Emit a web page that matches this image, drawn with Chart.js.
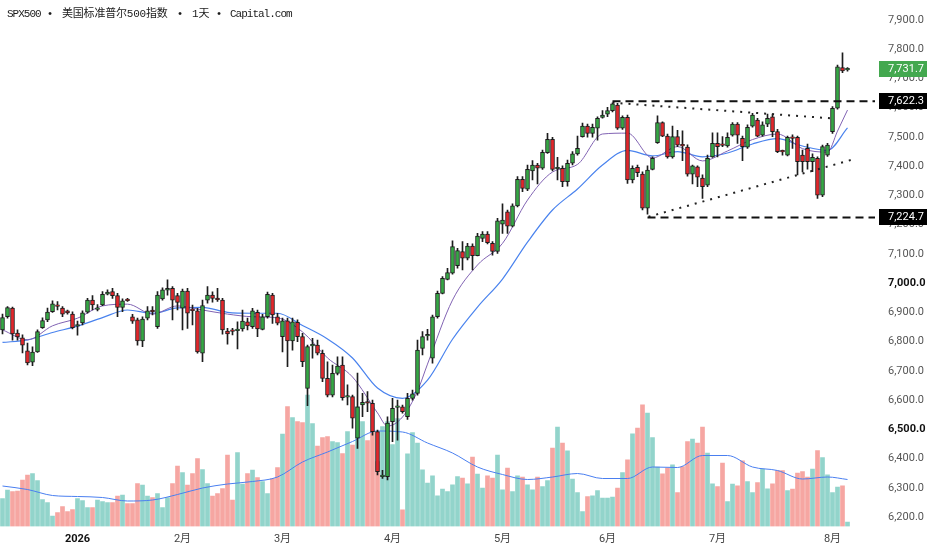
<!DOCTYPE html>
<html><head><meta charset="utf-8">
<script src="https://cdn.jsdelivr.net/npm/chart.js@4.4.1/dist/chart.umd.min.js"></script>
<style>
html,body{margin:0;padding:0;background:#fff;}
#wrap{position:relative;width:932px;height:550px;overflow:hidden;}
#title span{position:absolute;top:8px;white-space:nowrap;line-height:12px;font-size:11px;color:#1a1a1a;font-family:'Liberation Mono','Noto Sans CJK SC',monospace;}
#title .lat{letter-spacing:-1px;}
#title .dot{text-align:center;width:8px;}
</style></head><body>
<div id="wrap">
<canvas id="c"></canvas>
<div id="title">
<span class="lat" style="left:7px">SPX500</span>
<span class="dot" style="left:46px">•</span>
<span style="left:62px;letter-spacing:-0.2px">美国标准普尔500指数</span>
<span class="dot" style="left:176px">•</span>
<span style="left:192px">1天</span>
<span class="dot" style="left:215px">•</span>
<span class="lat" style="left:230px">Capital.com</span>
</div>
</div>
<script>
// ---------- DATA ----------
const open = [
6840,6885,6915,6829,6813,6768,6730,6765,6848,6874,
6902,6921,6915,6905,6894,6853,6864,6901,6942,6910,
6925,6962,6971,6957,6917,6943,6885,6874,6802,6880,
6904,6851,6946,6976,6982,6957,6914,6973,6909,6905,
6760,6942,6959,6945,6942,6836,6837,6837,6843,6868,
6851,6900,6842,6885,6959,6885,6817,6871,6802,6866,
6817,6640,6785,6788,6760,6674,6617,6691,6720,6610,
6612,6470,6583,6591,6589,6492,6338,6338,6526,6575,
6577,6543,6606,6623,6777,6819,6743,6885,6965,7013,
7034,7060,7108,7085,7127,7094,7153,7168,7136,7108,
7202,7244,7195,7264,7355,7321,7384,7404,7393,7446,
7492,7391,7393,7347,7410,7442,7501,7537,7512,7530,
7567,7578,7590,7609,7530,7567,7353,7396,7373,7256,
7389,7480,7549,7503,7432,7501,7470,7465,7373,7398,
7359,7335,7432,7478,7472,7469,7506,7544,7495,7465,
7537,7558,7506,7544,7569,7518,7450,7438,7496,7499,
7438,7461,7415,7427,7301,7438,7518,7598,7737,7729];
const high = [
6894,6920,6918,6840,6823,6795,6782,6840,6881,6915,
6939,6937,6920,6908,6902,6870,6905,6948,6957,6927,
6971,6977,6982,6965,6946,6948,6893,6880,6885,6920,
6920,6971,6984,7011,6988,6965,6980,6982,6925,6914,
6942,6988,6970,6982,6948,6845,6845,6868,6908,6880,
6914,6908,6893,6969,6965,6897,6880,6880,6880,6874,
6828,6788,6811,6805,6771,6731,6720,6748,6748,6652,
6617,6692,6623,6629,6600,6497,6360,6543,6606,6600,
6583,6623,6634,6805,6834,6842,6891,6973,7022,7051,
7145,7119,7142,7136,7134,7170,7176,7176,7142,7222,
7271,7250,7271,7364,7364,7404,7419,7410,7455,7512,
7499,7430,7401,7421,7450,7503,7547,7544,7544,7569,
7590,7601,7617,7615,7572,7575,7401,7404,7381,7401,
7432,7572,7552,7510,7537,7523,7521,7473,7404,7401,
7370,7438,7514,7514,7501,7514,7549,7549,7503,7541,
7581,7564,7552,7578,7578,7526,7455,7503,7507,7503,
7455,7476,7442,7432,7472,7478,7604,7746,7788,7737];
const low = [
6826,6880,6805,6805,6761,6720,6718,6763,6845,6868,
6900,6908,6885,6894,6843,6822,6857,6897,6908,6905,
6923,6960,6948,6885,6902,6937,6862,6788,6783,6874,
6891,6845,6942,6959,6874,6908,6840,6845,6857,6760,
6731,6931,6935,6937,6825,6791,6823,6775,6836,6840,
6845,6817,6840,6880,6862,6857,6765,6714,6771,6800,
6714,6581,6743,6754,6663,6611,6611,6686,6600,6583,
6504,6435,6543,6560,6480,6344,6332,6327,6458,6463,
6555,6534,6600,6617,6754,6805,6726,6880,6963,7011,
7031,7051,7045,7079,7045,7093,7142,7134,7096,7102,
7170,7170,7192,7261,7313,7316,7353,7339,7389,7444,
7384,7353,7330,7332,7404,7438,7499,7499,7499,7489,
7564,7569,7586,7526,7526,7341,7343,7364,7250,7236,
7387,7478,7501,7427,7427,7467,7419,7366,7339,7330,
7290,7330,7430,7432,7467,7465,7503,7478,7419,7461,
7533,7501,7503,7535,7501,7446,7438,7435,7461,7370,
7380,7390,7381,7290,7296,7433,7512,7595,7720,7725];
const close = [
6882,6916,6826,6816,6788,6727,6764,6834,6872,6901,
6929,6920,6894,6898,6848,6856,6898,6942,6925,6913,
6962,6969,6957,6917,6939,6940,6870,6802,6877,6905,
6902,6959,6977,6982,6942,6934,6973,6897,6906,6765,
6923,6959,6948,6943,6840,6826,6835,6843,6870,6854,
6905,6843,6885,6962,6891,6863,6871,6802,6868,6817,
6731,6783,6788,6760,6674,6617,6691,6716,6608,6612,
6538,6577,6592,6589,6492,6355,6341,6521,6572,6577,
6560,6606,6621,6771,6817,6821,6885,6965,7016,7036,
7125,7111,7085,7127,7094,7161,7168,7138,7108,7213,
7216,7195,7264,7355,7324,7389,7404,7393,7447,7492,
7389,7393,7347,7410,7442,7461,7537,7512,7533,7564,
7575,7590,7613,7530,7567,7353,7393,7378,7256,7387,
7427,7549,7503,7432,7501,7472,7469,7373,7401,7362,
7330,7427,7478,7467,7471,7499,7544,7506,7467,7533,
7575,7503,7541,7564,7518,7450,7449,7499,7495,7415,
7415,7415,7430,7301,7467,7472,7598,7740,7726,7731.7];
// volume, relative units
const volume = [
28,36.5,35,35.5,46.5,51.5,53,46,27,24,
10.5,14,20,15,17,28,26,19,19,26.5,
25,24,24,30.5,31.5,23,23,43,41.5,30.5,
29,33,19,29,43,60.5,54,41.5,53,68,
57,43,30.5,33,38,71.5,26.5,74,42.5,53,
56.5,49,45,33,48,59,92.5,120,109,105,
104,131.5,103,80.5,89,90,85,84,73,95,
81.5,120,105,86,95,65,100,105,82,108,
16.7,72.7,94,83.3,56.7,43.3,50.7,30.7,37.3,35,
41.7,50,48.3,42.7,69.3,52.3,38.3,50.7,48.3,71.3,
36.7,58.3,35,50.7,49.3,41.7,36.7,49.3,40,46,
78.3,99.3,83.3,75.7,47.3,34,15,30,30.7,36,
28.3,28.3,29.3,38.3,54,66.7,92.7,98.3,121.7,113.3,
89,59.3,52.7,58.3,61.7,34,60,85,87.3,83.3,
99.3,73.3,42.7,40,63.3,25,42.3,40.7,65.7,45,
34,44,57.3,37.7,42.7,56,56,36,37.3,53.3,
55,49.3,57.3,76,69,51.7,34,39.3,40.7,4.3];

// moving averages (candle index, value)
const maFastIdx = [0,5,10,15,20,25,30,35,40,45,50,55,60,65,70,75,77,80,83,85,90,95,100,105,110,115,120,125,130,135,140,145,150,155,160,165,167,169];
const maFastVal = [6840,6806,6854,6880,6922,6928,6894,6922,6908,6894,6885,6881,6833,6744,6679,6556,6511,6542,6631,6723,6942,7062,7136,7284,7380,7406,7510,7513,7428,7467,7418,7452,7491,7510,7460,7448,7520,7592];
const maSlowIdx = [0,5,10,15,20,25,30,35,40,45,50,55,60,65,70,75,80,85,90,95,100,105,110,115,120,125,130,135,140,145,150,155,160,165,169];
const maSlowVal = [6797,6806,6831,6853,6882,6908,6897,6915,6917,6900,6897,6897,6855,6809,6744,6641,6606,6668,6808,6918,7014,7140,7250,7322,7404,7454,7435,7450,7432,7445,7476,7494,7469,7454,7531];
const volMaIdx = maSlowIdx;
const volMaVal = [40.5,37,31,30,29,25.5,26.5,32,38.5,42.5,45,49.5,64.5,74.5,85,95.5,94.5,83.5,73.5,59.5,52,47,49.5,53,48,48,59.5,59,71,71,59.5,56,47.5,49.5,47];

// drawn levels and trend lines
const levelValues = [7622.3, 7224.7];
const levelStartIdx = [122, 129];
const upperTrend = [[122, 7617], [165.5, 7564]];
const lowerTrend = [[129.2, 7227], [170.2, 7423.5]];
const badgeValues = [7731.7, 7622.3, 7224.7];

// axes
const priceTicks = [6200,6300,6400,6500,6600,6700,6800,6900,7000,7100,7200,7300,7400,7500,7600,7700,7800,7900];
const boldPriceTicks = [7000, 6500];
const monthTickLabels = ['2026','2月','3月','4月','5月','6月','7月','8月'];
const monthTickIndex = [15,36,56,78,100,121,143,166];
const boldMonthLabel = '2026';

// ---------- BUILD ----------
const slotCount = 175;
const labels = Array.from({length: slotCount}, () => '');
monthTickIndex.forEach((ix, k) => { labels[ix] = monthTickLabels[k]; });

const GREEN = '#35a744', RED = '#e2262b', EDGE = '#1c1c1c';
const up = close.map((c, i) => c >= open[i]);
const fmt = v => Number(v).toLocaleString('en-US', {minimumFractionDigits: 1, maximumFractionDigits: 1});
const pts = (idx, val) => idx.map((x, k) => ({x: x, y: val[k]}));
const lineDs = (data, color, width, extra) => Object.assign({
  type: 'line', data, xAxisID: 'xl', yAxisID: 'y', borderColor: color, borderWidth: width,
  pointRadius: 0, fill: false, tension: 0, spanGaps: true
}, extra || {});

const datasets = [
  { type: 'bar', label: 'body', data: open.map((o, i) => [o, close[i]]),
    backgroundColor: up.map(u => u ? GREEN : RED), borderColor: EDGE, borderWidth: 1,
    borderSkipped: false, barThickness: 4, minBarLength: 1.6, grouped: false, order: 1 },
  { type: 'bar', label: 'wick', data: low.map((l, i) => [l, high[i]]),
    backgroundColor: EDGE, borderWidth: 0, barThickness: 1, grouped: false, order: 2 },
  lineDs(pts(maFastIdx, maFastVal), '#8163b3', 1, {cubicInterpolationMode: 'monotone', order: 3}),
  lineDs(pts(maSlowIdx, maSlowVal), '#4a83ee', 1.2, {cubicInterpolationMode: 'monotone', order: 4}),
  lineDs([{x: levelStartIdx[0], y: levelValues[0]}, {x: slotCount - 0.5, y: levelValues[0]}], '#111', 2, {borderDash: [8, 5], order: 0}),
  lineDs([{x: levelStartIdx[1], y: levelValues[1]}, {x: slotCount - 0.5, y: levelValues[1]}], '#111', 2, {borderDash: [8, 5], order: 0}),
  lineDs(upperTrend.map(p => ({x: p[0], y: p[1]})), '#222', 2, {borderDash: [2, 6], order: 0}),
  lineDs(lowerTrend.map(p => ({x: p[0], y: p[1]})), '#222', 2, {borderDash: [2, 6], order: 0}),
  lineDs(pts(volMaIdx, volMaVal), '#4a7ff0', 1, {yAxisID: 'yv', cubicInterpolationMode: 'monotone', order: 8}),
  { type: 'bar', label: 'volume', data: volume, yAxisID: 'yv',
    backgroundColor: up.map(u => u ? '#92d4cb' : '#f6a6a2'), borderWidth: 0,
    barThickness: 4, grouped: false, order: 9 }
];

const badgePlugin = {
  id: 'badges',
  afterDraw(chart) {
    const ctx = chart.ctx, ys = chart.scales.y, right = chart.chartArea.right;
    const colors = ['#43a84f', '#000', '#000'];
    ctx.save();
    badgeValues.forEach((v, k) => {
      const y = ys.getPixelForValue(v);
      ctx.fillStyle = colors[k];
      ctx.fillRect(right + 4, Math.round(y) - 8, 48, 16);
      ctx.fillStyle = '#fff';
      ctx.font = '11px Roboto';
      ctx.textAlign = 'left';
      ctx.textBaseline = 'middle';
      ctx.fillText(fmt(v), right + 13, Math.round(y) + 0.5);
    });
    ctx.restore();
  }
};

new Chart(document.getElementById('c'), {
  type: 'bar',
  data: { labels, datasets },
  plugins: [badgePlugin],
  options: {
    responsive: true, maintainAspectRatio: false, animation: false,
    layout: { padding: 0 },
    plugins: { legend: { display: false }, tooltip: { enabled: false }, title: { display: false } },
    scales: {
      x: {
        type: 'category', offset: true,
        grid: { display: false, drawTicks: false }, border: { display: false },
        ticks: {
          autoSkip: false, maxRotation: 0, padding: 6,
          color: c => (c.tick && c.tick.label === boldMonthLabel) ? '#111' : '#444',
          font: c => ({ family: 'Roboto, "Noto Sans CJK SC"', size: 11, weight: (c.tick && c.tick.label === boldMonthLabel) ? 'bold' : 'normal' })
        },
        afterFit: s => { s.height = 23.5; s.paddingLeft = 0; s.paddingRight = 0; }
      },
      xl: { type: 'linear', display: false, offset: false, grid: { offset: false }, min: -0.5, max: slotCount - 0.5 },
      y: {
        type: 'linear', position: 'right', min: 6167.5, max: 7968.4,
        grid: { display: false, drawTicks: false }, border: { display: false },
        afterBuildTicks: s => { s.ticks = priceTicks.map(v => ({ value: v })); },
        ticks: {
          padding: 13, callback: v => fmt(v),
          color: c => boldPriceTicks.includes(c.tick && c.tick.value) ? '#111' : '#555',
          font: c => ({ family: 'Roboto', size: 11, weight: boldPriceTicks.includes(c.tick && c.tick.value) ? 'bold' : 'normal' })
        },
        afterFit: s => { s.width = 57; s.paddingTop = 0; s.paddingBottom = 0; }
      },
      yv: { type: 'linear', display: false, min: 0, max: 526.5 }
    }
  }
});
</script>
</body></html>
